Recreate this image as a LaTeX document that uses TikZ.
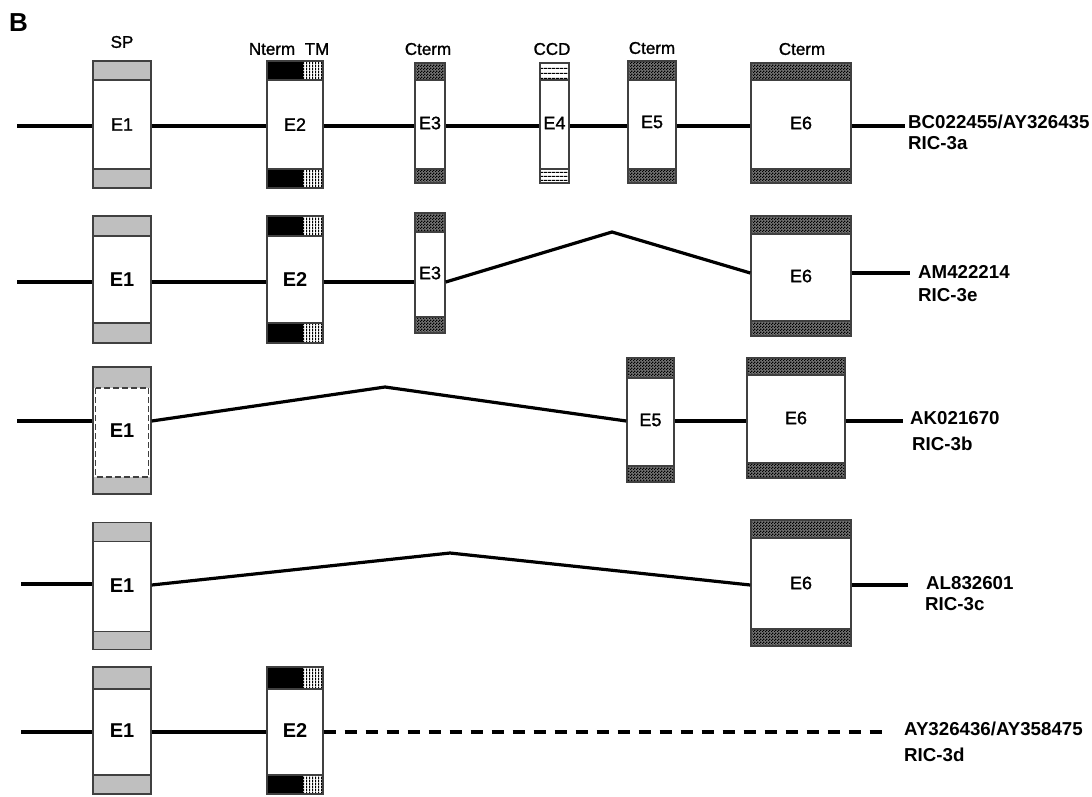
\documentclass[tikz,border=0pt]{standalone}
\usepackage{fontspec}
\setmainfont{Liberation Sans}
\newfontfamily\plainfont{Liberation Sans}[FakeBold=1.2]
\usetikzlibrary{patterns}

% fine textures used in the exon bands
\pgfdeclarepatternformonly{ctermdots}{\pgfqpoint{0pt}{0pt}}{\pgfqpoint{3pt}{3pt}}{\pgfqpoint{3pt}{3pt}}{%
  \pgfpathrectangle{\pgfqpoint{0pt}{0pt}}{\pgfqpoint{1.5pt}{1.5pt}}%
  \pgfpathrectangle{\pgfqpoint{1.5pt}{1.5pt}}{\pgfqpoint{1.5pt}{1.5pt}}%
  \pgfusepath{fill}}
\pgfdeclarepatternformonly{tmlines}{\pgfqpoint{0pt}{0pt}}{\pgfqpoint{3.3pt}{3pt}}{\pgfqpoint{3.3pt}{3pt}}{%
  \pgfpathrectangle{\pgfqpoint{0pt}{0pt}}{\pgfqpoint{1.2pt}{3pt}}%
  \pgfusepath{fill}}
\pgfdeclarepatternformonly{ccdlines}{\pgfqpoint{0pt}{0pt}}{\pgfqpoint{4pt}{4.4pt}}{\pgfqpoint{4pt}{4.4pt}}{%
  \pgfpathrectangle{\pgfqpoint{0pt}{0pt}}{\pgfqpoint{4pt}{1.3pt}}%
  \pgfusepath{fill}}

\begin{document}
\begin{tikzpicture}[
  x=1pt, y=-1pt,
  % Exon box styles
  exon/.style={
    rectangle,
    draw=black!75,
    line width=1.4pt,
    fill=white,
    inner sep=0pt,
    font=\plainfont\fontsize{18}{20}\selectfont
  },
  boldtext/.style={font=\fontsize{20}{22}\selectfont\bfseries},
  % Band fills
  spfill/.style={fill=black!25},
  ctfill/.style={preaction={fill=black!55}, pattern=ctermdots, pattern color=black},
  ccdfill/.style={pattern=ccdlines, pattern color=black},
  tmfill/.style={pattern=tmlines, pattern color=black},
  sepline/.style={draw=black!75, line width=1.4pt},
  bands/.style n args={3}{path picture={
    \path[#1] (path picture bounding box.north west) rectangle ([yshift=-#2]path picture bounding box.north east);
    \path[#1] (path picture bounding box.south west) rectangle ([yshift=#3]path picture bounding box.south east);
    \path[sepline] ([yshift=-#2]path picture bounding box.north west) -- ([yshift=-#2]path picture bounding box.north east);
    \path[sepline] ([yshift=#3]path picture bounding box.south west) -- ([yshift=#3]path picture bounding box.south east);
  }},
  ntbands/.style 2 args={path picture={
    \fill[black] (path picture bounding box.north west) rectangle ([shift={(36pt,-#1)}]path picture bounding box.north west);
    \path[tmfill] ([xshift=36pt]path picture bounding box.north west) rectangle ([yshift=-#1]path picture bounding box.north east);
    \fill[black] (path picture bounding box.south west) rectangle ([shift={(36pt,#2)}]path picture bounding box.south west);
    \path[tmfill] ([xshift=36pt]path picture bounding box.south west) rectangle ([yshift=#2]path picture bounding box.south east);
    \path[sepline] ([yshift=-#1]path picture bounding box.north west) -- ([yshift=-#1]path picture bounding box.north east);
    \path[sepline] ([yshift=#2]path picture bounding box.south west) -- ([yshift=#2]path picture bounding box.south east);
  }},
  spdashed/.style={path picture={
    \path[spfill] (path picture bounding box.north west) rectangle ([yshift=-21pt]path picture bounding box.north east);
    \path[spfill] (path picture bounding box.south west) rectangle ([yshift=17pt]path picture bounding box.south east);
    \draw[black!75, line width=1.6pt, dash pattern=on 6pt off 3pt]
      ([shift={(2.5pt,-21pt)}]path picture bounding box.north west) rectangle ([shift={(-2.5pt,17pt)}]path picture bounding box.south east);
  }},
  % Line styles
  intron/.style={line width=3.2pt, black},
  lost/.style={intron, dash pattern=on 12pt off 9pt},
  % Label styles
  domlabel/.style={font=\plainfont\fontsize{17}{19}\selectfont, inner sep=0pt},
  acc/.style={font=\fontsize{18.7}{21}\selectfont\bfseries, anchor=west, inner sep=0pt}
]
\useasboundingbox (0,0) rectangle (1092,796);

% === PANEL LETTER AND DOMAINS ===
\node[font=\fontsize{26}{28}\selectfont\bfseries, inner sep=0pt] (panel) at (18.5,22.5) {B};
\node[domlabel] (dsp) at (122,42) {SP};
\node[domlabel] (dnterm) at (272,49) {Nterm};
\node[domlabel] (dtm) at (317,49) {TM};
\node[domlabel] (dct3) at (428,49) {Cterm};
\node[domlabel] (dccd) at (552,49) {CCD};
\node[domlabel] (dct5) at (652,48) {Cterm};
\node[domlabel] (dct6) at (802,49) {Cterm};

% === RIC-3a ===
\coordinate (a0) at (17,126);
\coordinate (a7) at (905,126);
\node[exon, minimum width=58pt, minimum height=127pt, bands={spfill}{19pt}{19pt}] (a1) at (122,124.5) {E1};
\node[exon, minimum width=56pt, minimum height=127pt, ntbands={19pt}{19pt}] (a2) at (295,124.5) {E2};
\node[exon, minimum width=30pt, minimum height=120pt, bands={ctfill}{17pt}{14pt}] (a3) at (430,123) {E3};
\node[exon, minimum width=29pt, minimum height=120pt, bands={ccdfill}{17pt}{14pt}] (a4) at (554.5,123) {E4};
\node[exon, minimum width=48pt, minimum height=122pt, bands={ctfill}{19pt}{14pt}] (a5) at (652,122) {E5};
\node[exon, minimum width=100pt, minimum height=120pt, bands={ctfill}{17pt}{14pt}] (a6) at (801,123) {E6};
\node[acc] (acca) at (908,122) {BC022455/AY326435};
\node[acc] (rica) at (908,143.5) {RIC-3a};

\draw[intron] (a0) -- (a0 -| a1.west);
\draw[intron] (a0 -| a1.east) -- (a0 -| a2.west);
\draw[intron] (a0 -| a2.east) -- (a0 -| a3.west);
\draw[intron] (a0 -| a3.east) -- (a0 -| a4.west);
\draw[intron] (a0 -| a4.east) -- (a0 -| a5.west);
\draw[intron] (a0 -| a5.east) -- (a0 -| a6.west);
\draw[intron] (a0 -| a6.east) -- (a7);

% === RIC-3e ===
\coordinate (e0) at (17,282);
\coordinate (ep) at (612,232);
\coordinate (e7) at (910,273);
\node[exon, boldtext, minimum width=58pt, minimum height=127pt, bands={spfill}{20pt}{20pt}] (e1) at (122,279.5) {E1};
\node[exon, boldtext, minimum width=56pt, minimum height=127pt, ntbands={20pt}{20pt}] (e2) at (295,279.5) {E2};
\node[exon, minimum width=30pt, minimum height=120pt, bands={ctfill}{19pt}{16pt}] (e3) at (430,273) {E3};
\node[exon, minimum width=100pt, minimum height=120pt, bands={ctfill}{18pt}{15pt}] (e6) at (801,276) {E6};
\node[acc] (acce) at (918,271.5) {AM422214};
\node[acc] (rice) at (918,295) {RIC-3e};

\draw[intron] (e0) -- (e0 -| e1.west);
\draw[intron] (e0 -| e1.east) -- (e0 -| e2.west);
\draw[intron] (e0 -| e2.east) -- (e0 -| e3.west);
\draw[intron] (e0 -| e3.east) -- (ep) -- (e7 -| e6.west);
\draw[intron] (e7 -| e6.east) -- (e7);

% === RIC-3b ===
\coordinate (b0) at (17,421);
\coordinate (bp) at (385,387);
\coordinate (b7) at (903,421);
\node[exon, boldtext, minimum width=58pt, minimum height=127pt, spdashed] (b1) at (122,430.5) {E1};
\node[exon, minimum width=47pt, minimum height=124pt, bands={ctfill}{20pt}{16pt}] (b5) at (650.5,420) {E5};
\node[exon, minimum width=98pt, minimum height=120pt, bands={ctfill}{17pt}{15pt}] (b6) at (796,418) {E6};
\node[acc] (accb) at (910,418.5) {AK021670};
\node[acc] (ricb) at (912,443.5) {RIC-3b};

\draw[intron] (b0) -- (b0 -| b1.west);
\draw[intron] (b0 -| b1.east) -- (bp) -- (b0 -| b5.west);
\draw[intron] (b0 -| b5.east) -- (b0 -| b6.west);
\draw[intron] (b0 -| b6.east) -- (b7);

% === RIC-3c ===
\coordinate (c0) at (21,584);
\coordinate (cp) at (450,553);
\coordinate (c7) at (908,585);
\node[exon, boldtext, minimum width=58pt, minimum height=127pt, bands={spfill}{19pt}{18pt}] (c1) at (122,586) {E1};
\node[exon, minimum width=100pt, minimum height=126pt, bands={ctfill}{18pt}{17pt}] (c6) at (801,583) {E6};
\node[acc] (accc) at (926,583) {AL832601};
\node[acc] (ricc) at (925,604) {RIC-3c};

\draw[intron] (c0) -- (c0 -| c1.west);
\draw[intron] (c7 -| c1.east) -- (cp) -- (c7 -| c6.west);
\draw[intron] (c7 -| c6.east) -- (c7);

% === RIC-3d ===
\coordinate (d0) at (21,732);
\coordinate (d7) at (885,732);
\node[exon, boldtext, minimum width=58pt, minimum height=127pt, bands={spfill}{22pt}{19pt}] (d1) at (122,730.5) {E1};
\node[exon, boldtext, minimum width=56pt, minimum height=127pt, ntbands={22pt}{19pt}] (d2) at (295,730.5) {E2};
\node[acc] (accd) at (904,728.5) {AY326436/AY358475};
\node[acc] (ricd) at (904,755) {RIC-3d};

\draw[intron] (d0) -- (d0 -| d1.west);
\draw[intron] (d0 -| d1.east) -- (d0 -| d2.west);
\draw[lost] (d0 -| d2.east) -- (d7);

\end{tikzpicture}
\end{document}
